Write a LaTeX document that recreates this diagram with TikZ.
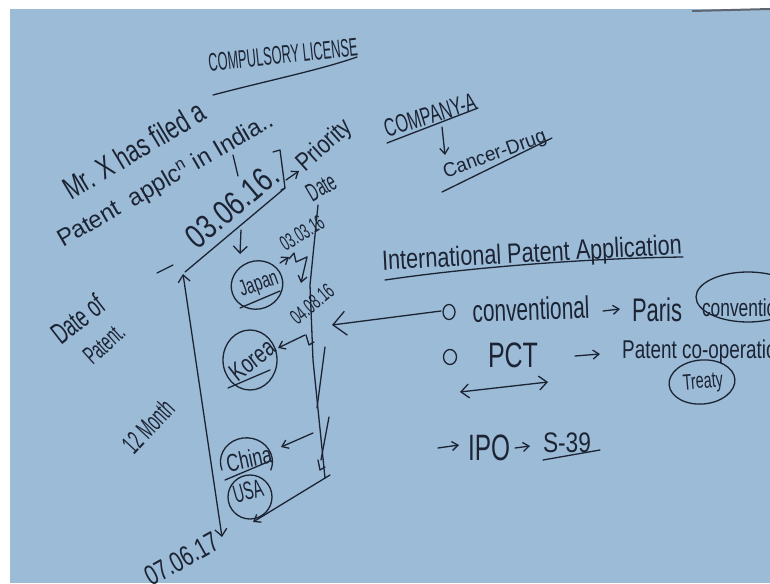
\documentclass[tikz,border=0pt]{standalone}
\usepackage{fontspec}
\setmainfont{Liberation Sans}
\usetikzlibrary{arrows.meta}
\definecolor{board}{RGB}{156,187,215}
\definecolor{ink}{RGB}{28,36,52}
\newcommand\wbt[3]{\resizebox*{#1pt}{#2pt}{#3}}
\begin{document}
\begin{tikzpicture}[x=1pt,y=-1pt,
  wb/.style={inner sep=0pt, text=ink},
  pen/.style={draw=ink, line width=1.3pt, line cap=round, line join=round},
  barb/.style={-{Straight Barb[length=6pt,width=9pt]}},
  bigbarb/.style={-{Straight Barb[length=13pt,width=24pt]}},
]
\useasboundingbox (0,0) rectangle (770,583);
\clip (0,0) rectangle (770,583);
\fill[white] (0,0) rectangle (770,583);
\fill[board] (10,9) rectangle (770,583);
\draw[draw=ink!70, line width=2pt] (692,11) -- (770,9);

% title
\node[wb, rotate=6] (title) at (283,55) {\wbt{150}{18}{COMPULSORY LICENSE}};
\draw[pen] (213,95) .. controls (270,80) and (320,70) .. (357,57);

% company
\node[wb, rotate=17] (comp) at (430,115) {\wbt{95}{18}{COMPANY-A}};
\draw[pen] (387,143) -- (478,108);
\node[wb, rotate=20] (drug) at (495,155) {\wbt{108}{18}{Cancer-Drug}};
\draw[pen] (442,192) -- (552,138);
\draw[pen, barb] (442,127) -- (445,155);

% Mr X text
\node[wb, rotate=31] (mrx) at (134,150) {\wbt{160}{23}{Mr. X has filed a}};
\node[wb, rotate=30] (pat) at (166,181) {\wbt{245}{23}{Patent \ applc\textsuperscript{n} in India..}};
\draw[pen] (233,155) -- (238,176);

% priority date
\draw[pen] (157,273) -- (173,265);
\node[wb, rotate=40] (d1) at (232,206) {\wbt{110}{24}{03.06.16.}};
\draw[pen] (273,152) -- (280,150) -- (285,188) -- (281,190);
\draw[pen] (185,272) -- (285,188);
\draw[pen, barb] (286,180) -- (299,171);
\node[wb, rotate=42] (prio) at (325,146) {\wbt{65}{24}{Priority}};
\node[wb, rotate=30] (date) at (321,187) {\wbt{30}{18}{Date}};
\draw[pen, -{Straight Barb[length=7pt,width=14pt]}] (241,230) -- (240,254);

% left text
\node[wb, rotate=38] (dateof) at (78,319) {\wbt{59}{22}{Date of}};
\node[wb, rotate=42] (patent) at (104,344) {\wbt{46}{18}{Patent.}};
\node[wb, rotate=47] (month) at (148,426) {\wbt{62}{20}{12 Month}};
\node[wb, rotate=29] (d2) at (182,559) {\wbt{80}{20}{07.06.17}};

% timeline left
\coordinate (lt) at (183,274);
\coordinate (lb) at (222,537);
\draw[pen, {Straight Barb[length=7pt,width=12pt]}-{Straight Barb[length=7pt,width=12pt]}] (lb) -- (lt);

% timeline right
\coordinate (rt) at (318,205);
\coordinate (rb) at (325,478);
\draw[pen] (rt) -- (310,285) -- (313,360) -- (rb);
\draw[pen] (325,347) -- (317,408);
\draw[pen] (329,417) -- (321,460);
\draw[pen] (306,335) -- (309,345) -- (314,342);
\draw[pen] (318,460) -- (320,470) -- (325,467);

% Japan
\node[wb, rotate=32] (d3) at (302,233) {\wbt{48}{15}{03.03.16}};
\draw[pen, barb] (280,263) -- (289,257);
\draw[pen] (289,259) -- (294,253) -- (296,262) -- (307,257);
\draw[pen, barb] (307,257) -- (301,283);
\draw[pen, rotate around={20:(257,285)}] (257,285) ellipse [x radius=26pt, y radius=24pt];
\node[wb, rotate=20] (japan) at (259,285) {\wbt{40}{20}{Japan}};
\draw[pen] (240,308) -- (280,291);

% Korea
\node[wb, rotate=40] (d4) at (312,304) {\wbt{50}{15}{04.08.16}};
\draw[pen, barb] (305,335) -- (278,348);
\draw[pen] (250,360) ellipse [x radius=27pt, y radius=30pt];
\node[wb, rotate=38] (korea) at (252,360) {\wbt{50}{18}{Korea}};
\draw[pen] (228,388) -- (270,370);

% China
\draw[pen] (222,470) arc [start angle=200, end angle=-20, x radius=26pt, y radius=24pt];
\node[wb, rotate=12] (china) at (249,459) {\wbt{46}{18}{China}};
\draw[pen] (225,480) -- (270,461);
\draw[pen, barb] (313,433) -- (281,447);

% USA
\draw[pen] (250,497) ellipse [x radius=22pt, y radius=22pt];
\node[wb, rotate=15] (usa) at (248,491) {\wbt{30}{18}{USA}};
\draw[pen, barb] (330,475) -- (253,522);

% International patent application
\node[wb, rotate=3] (ipa) at (532,255) {\wbt{300}{26}{International Patent Application}};
\draw[pen] (385,280) .. controls (480,266) and (600,258) .. (683,257);

\draw[pen] (449,312) ellipse [x radius=6pt, y radius=7.5pt];
\node[wb, rotate=2] (conv) at (531,309) {\wbt{117}{23}{conventional}};
\draw[pen, barb] (603,311) -- (620,309);
\node[wb] (paris) at (657,310) {\wbt{50}{24}{Paris}};
\node[wb] (convn) at (744,308) {\wbt{84}{18}{convention}};
\draw[pen] (748,297) ellipse [x radius=52pt, y radius=25pt];
\coordinate (rc) at (332,325);
\draw[pen, bigbarb] (441,311) -- (rc);

\draw[pen] (450,357) ellipse [x radius=6.5pt, y radius=7.5pt];
\node[wb] (pct) at (513,355) {\wbt{50}{25}{PCT}};
\draw[pen, barb] (575,356) -- (600,354);
\node[wb, anchor=west] (pco) at (622,352) {\wbt{165}{24}{Patent co-operation}};
\draw[pen, rotate around={5:(702,382)}] (702,382) ellipse [x radius=33pt, y radius=22pt];
\node[wb, rotate=5] (treaty) at (703,383) {\wbt{40}{20}{Treaty}};
\draw[pen, {Straight Barb[length=8pt,width=14pt]}-{Straight Barb[length=8pt,width=14pt]}] (460,392) -- (548,382);

\draw[pen, barb] (438,448) -- (459,445);
\node[wb] (ipo) at (489,448) {\wbt{42}{26}{IPO}};
\draw[pen, barb] (515,448) -- (530,446);
\node[wb] (s39) at (567,443) {\wbt{48}{20}{S-39}};
\draw[pen] (543,460) -- (600,450);
\end{tikzpicture}
\end{document}
